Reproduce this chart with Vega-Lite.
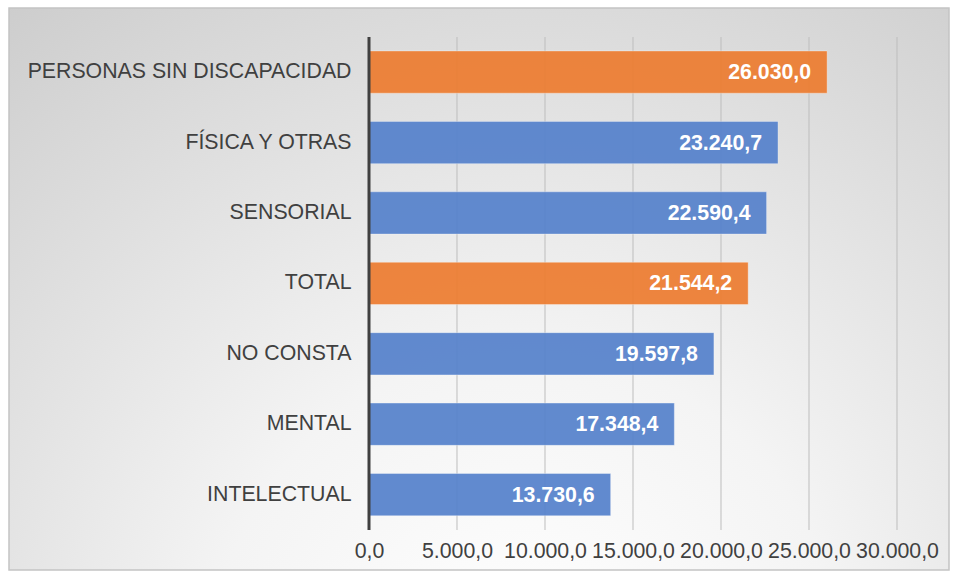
{
  "$schema": "https://vega.github.io/schema/vega-lite/v6.json",
  "width": 940,
  "height": 562,
  "autosize": "none",
  "padding": {"left": 9, "top": 8, "right": 6, "bottom": 9},
  "background": "white",
  "config": {
    "font": "Liberation Sans",
    "locale": {"number": {"decimal": ",", "thousands": ".", "grouping": [3], "currency": ["", " €"]}},
    "view": {
      "stroke": "#c4c4c4",
      "strokeWidth": 1.5,
      "fill": {
        "gradient": "radial",
        "x1": 0.55, "y1": 0.9, "r1": 0,
        "x2": 0.55, "y2": 0.9, "r2": 0.95,
        "stops": [
          {"offset": 0, "color": "#ffffff"},
          {"offset": 0.35, "color": "#f4f4f4"},
          {"offset": 1, "color": "#c9c9c9"}
        ]
      }
    }
  },
  "datasets": {
    "bars": [
      {"categoria": "PERSONAS SIN DISCAPACIDAD", "valor": 26030.0, "grupo": "referencia"},
      {"categoria": "FÍSICA Y OTRAS", "valor": 23240.7, "grupo": "discapacidad"},
      {"categoria": "SENSORIAL", "valor": 22590.4, "grupo": "discapacidad"},
      {"categoria": "TOTAL", "valor": 21544.2, "grupo": "referencia"},
      {"categoria": "NO CONSTA", "valor": 19597.8, "grupo": "discapacidad"},
      {"categoria": "MENTAL", "valor": 17348.4, "grupo": "discapacidad"},
      {"categoria": "INTELECTUAL", "valor": 13730.6, "grupo": "discapacidad"}
    ],
    "grid": [
      {"v": 5000}, {"v": 10000}, {"v": 15000}, {"v": 20000}, {"v": 25000}, {"v": 30000}
    ],
    "zero": [{"v": 0}]
  },
  "resolve": {"scale": {"y": "independent"}},
  "layer": [
    {
      "data": {"name": "grid"},
      "mark": {"type": "rule", "color": "#bdbdbd", "strokeWidth": 1},
      "encoding": {
        "x": {
          "field": "v", "type": "quantitative",
          "scale": {"domain": [-20454.5, 32954.5], "nice": false, "zero": false},
          "axis": {
            "orient": "bottom", "offset": -40, "values": [0, 5000, 10000, 15000, 20000, 25000, 30000],
            "format": ",.1f", "grid": false, "domain": false, "ticks": false,
            "labelFontSize": 21.3, "labelColor": "#404040", "labelPadding": 10, "title": null, "labelFlush": false
          }
        },
        "y": {"datum": 1, "type": "quantitative", "scale": {"domain": [-0.0811, 1.0589], "nice": false, "zero": false}, "axis": null},
        "y2": {"datum": 0}
      }
    },
    {
      "data": {"name": "bars"},
      "layer": [
        {
          "mark": {"type": "bar", "opacity": 0.93, "stroke": "#ffffff", "strokeOpacity": 0.35, "strokeWidth": 1},
          "encoding": {
            "y": {
              "field": "categoria", "type": "nominal", "sort": null,
              "scale": {"paddingInner": 0.4, "paddingOuter": 0.69, "align": 0.442},
              "axis": {
                "orient": "left", "offset": -360, "domain": false, "ticks": false,
                "labelFontSize": 21.3, "labelColor": "#404040", "labelPadding": 18, "labelLimit": 400, "title": null
              }
            },
            "x": {"field": "valor", "type": "quantitative"},
            "color": {
              "field": "grupo", "type": "nominal",
              "scale": {"domain": ["referencia", "discapacidad"], "range": ["#ED7D31", "#5682CC"]},
              "legend": null
            }
          }
        },
        {
          "mark": {"type": "text", "align": "right", "baseline": "middle", "dx": -16, "dy": 1, "color": "white", "fontWeight": "bold", "fontSize": 21.3},
          "encoding": {
            "y": {"field": "categoria", "type": "nominal", "sort": null},
            "x": {"field": "valor", "type": "quantitative"},
            "text": {"field": "valor", "type": "quantitative", "format": ",.1f"}
          }
        }
      ]
    },
    {
      "data": {"name": "zero"},
      "mark": {"type": "rule", "color": "#404040", "strokeWidth": 3},
      "encoding": {
        "x": {"field": "v", "type": "quantitative"},
        "y": {"datum": 1, "type": "quantitative", "scale": {"domain": [-0.0811, 1.0589], "nice": false, "zero": false}, "axis": null},
        "y2": {"datum": 0}
      }
    }
  ]
}
